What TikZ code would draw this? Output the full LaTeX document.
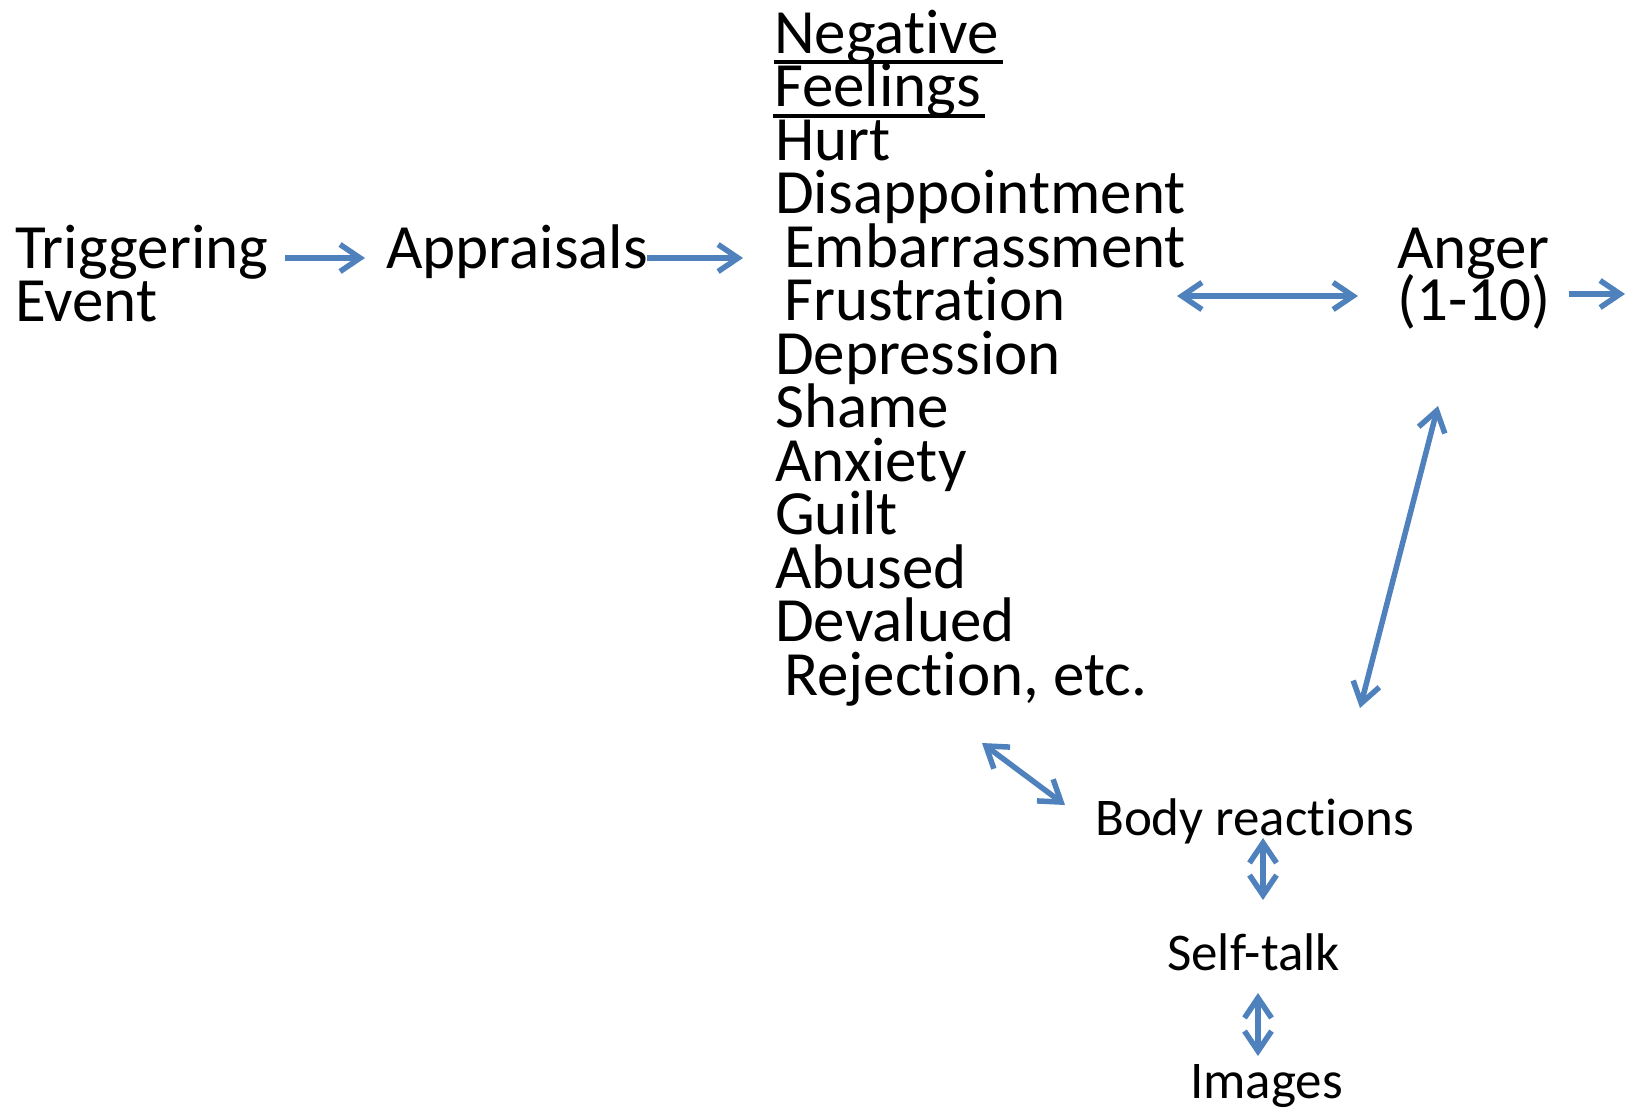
\documentclass[tikz,border=0pt]{standalone}
\usepackage{fontspec}
\setmainfont{Carlito}[Ligatures=NoCommon]
\usetikzlibrary{arrows.meta,calc}
\definecolor{abl}{HTML}{4F81BD}
\tikzset{
  big/.style={anchor=base west,inner sep=0pt,font=\fontsize{63}{53.5}\selectfont},
  small/.style={anchor=base west,inner sep=0pt,font=\fontsize{53}{53}\selectfont},
  arr/.style={draw=abl,line width=5.5pt,-{Straight Barb[length=20pt,width=27pt]}},
  darr/.style={arr,{Straight Barb[length=20pt,width=27pt]}-{Straight Barb[length=20pt,width=27pt]}},
  uline/.style={line width=4pt}
}
\begin{document}
\begin{tikzpicture}[x=1pt,y=-1pt]
\useasboundingbox[fill=white] (0,0) rectangle (1635,1111);
% left part
\node[big] (trig) at (15,268.5) {Triggering};
\node[big] (evt) at (15,321.5) {Event};
\node[big] (appr) at (386,268.5) {Appraisals};
% feelings list
\node[big] (f1) at (774,53) {Negative};
\node[big] (f2) at (774,106.5) {Feelings};
\node[big] (f3) at (775,160) {Hurt};
\node[big] (f4) at (775,213.5) {Disappointment};
\node[big] (f5) at (784,267) {Embarrassment};
\node[big] (f6) at (784,320.5) {Frustration};
\node[big] (f7) at (775,374) {Depression};
\node[big] (f8) at (775,427.5) {Shame};
\node[big] (f9) at (775,481) {Anxiety};
\node[big] (f10) at (775,534.5) {Guilt};
\node[big] (f11) at (775,588) {Abused};
\node[big] (f12) at (775,641.5) {Devalued};
\node[big] (f13) at (784,695) {Rejection, etc.};
\draw[uline] ($(f1.base west)+(0,8.5)$) -- ($(f1.base east)+(4,8.5)$);
\draw[uline] ($(f2.base west)+(-1,9)$) -- ($(f2.base east)+(4,9)$);
% anger
\node[big] (ang) at (1397,268) {Anger};
\node[big] (rng) at (1397,320) {(1-10)};
% lower part
\node[small] (body) at (1095,835) {Body reactions};
\node[small] (self) at (1167,970) {Self-talk};
\node[small] (img) at (1190,1098) {Images};
% connector end points
\coordinate (a1s) at (285,258);
\coordinate (a1e) at (365,258);
\coordinate (a2s) at (647,258);
\coordinate (a2e) at (743,258);
\coordinate (hs) at (1177,296);
\coordinate (he) at (1358,296);
\coordinate (os) at (1569,294);
\coordinate (oe) at (1625,294);
\coordinate (ds) at (1438,406);
\coordinate (de) at (1360,708);
\coordinate (bs) at (982,743);
\coordinate (be) at (1065,805);
\coordinate (v1s) at (1263,838);
\coordinate (v1e) at (1263,900);
\coordinate (v2s) at (1258,993);
\coordinate (v2e) at (1258,1056);
% connectors
\draw[arr] (a1s) -- (a1e);
\draw[arr] (a2s) -- (a2e);
\draw[darr] (hs) -- (he);
\draw[arr] (os) -- (oe);
\draw[darr] (ds) -- (de);
\draw[darr] (bs) -- (be);
\draw[darr] (v1s) -- (v1e);
\draw[darr] (v2s) -- (v2e);
\end{tikzpicture}
\end{document}
